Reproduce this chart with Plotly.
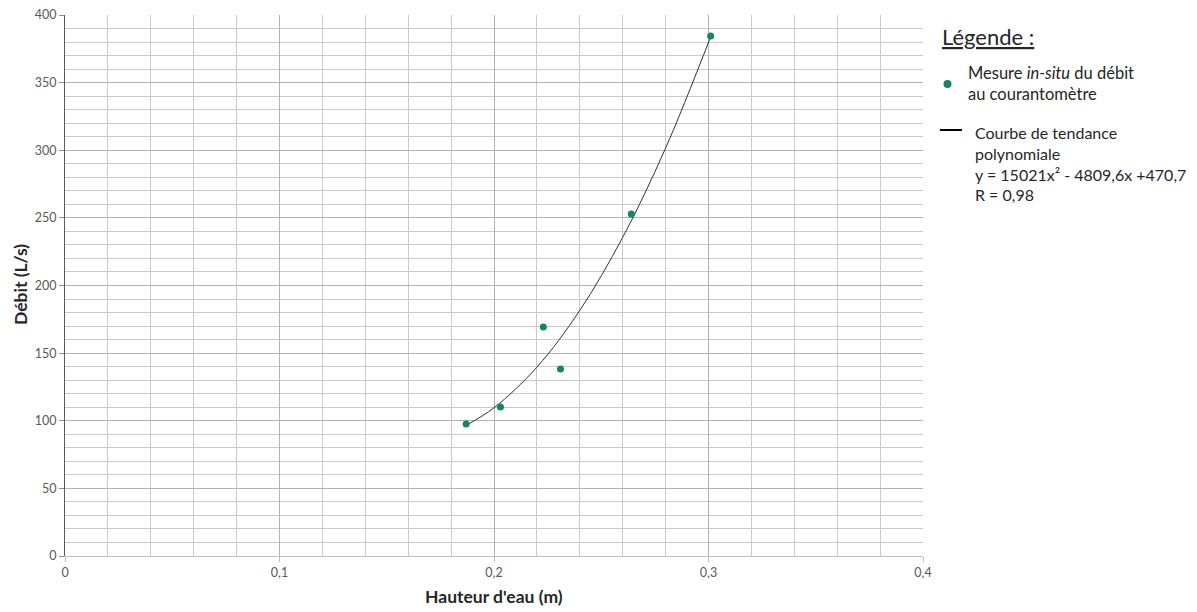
import plotly.graph_objects as go

# Data
hauteur = [0.187, 0.203, 0.223, 0.231, 0.264, 0.301]
debit = [97.6, 110.2, 169.3, 138.3, 252.9, 384.5]

# Trend curve points
trend_x = [0.187, 0.20, 0.22, 0.24, 0.26, 0.28, 0.301]
trend_y = [96.6, 109.6, 139.6, 181.6, 235.6, 301.6, 383.9]

x_ticks = [0, 0.1, 0.2, 0.3, 0.4]
y_ticks = [0, 50, 100, 150, 200, 250, 300, 350, 400]

font_fam = "Lato, 'Open Sans', sans-serif"
green = "#15875f"

W, H = 1197, 612
ML, MR, MT, MB = 65, 274, 15, 56

fig = go.Figure()
fig.add_trace(go.Scatter(x=trend_x, y=trend_y, mode="lines",
                         line=dict(color="#333333", width=1, shape="spline"),
                         showlegend=False, hoverinfo="skip"))
fig.add_trace(go.Scatter(x=hauteur, y=debit, mode="markers",
                         marker=dict(color=green, size=7),
                         showlegend=False))

fig.update_layout(
    width=W, height=H,
    margin=dict(l=ML, r=MR, t=MT, b=MB, autoexpand=False),
    paper_bgcolor="white", plot_bgcolor="white",
    separators=", ",
    font=dict(family=font_fam, size=12, color="#595959"),
    xaxis=dict(range=[0, 0.4], tickvals=x_ticks, showgrid=True, gridcolor="#b3b3b3", gridwidth=1,
               minor=dict(dtick=0.02, tick0=0, showgrid=True, gridcolor="#c9c9c9", gridwidth=1),
               showline=True, linecolor="#bfbfbf", linewidth=1,
               ticks="outside", ticklen=5, tickcolor="#bfbfbf", zeroline=False,
               tickfont=dict(size=12.5, color="#595959")),
    yaxis=dict(range=[0, 400], tickvals=y_ticks, showgrid=True, gridcolor="#b3b3b3", gridwidth=1,
               minor=dict(dtick=10, tick0=0, showgrid=True, gridcolor="#c9c9c9", gridwidth=1),
               showline=True, linecolor="#595959", linewidth=1,
               ticks="outside", ticklen=5, tickcolor="#8c8c8c", zeroline=False,
               tickfont=dict(size=12.5, color="#595959")),
)

def px(xp):
    return (xp - ML) / (W - ML - MR)
def py(yp):
    return (H - MB - yp) / (H - MT - MB)

annotations = [
    dict(text="<b>Débit (L/s)</b>", x=20, y=285, textangle=-90,
         font=dict(size=17.5, color="#262626")),
    dict(text="<b>Hauteur d'eau (m)</b>", x=494, y=596, font=dict(size=17.5, color="#262626")),
    dict(text="<u>Légende :</u>", x=940, y=37, xanchor="left", font=dict(size=22, color="#262626")),
    dict(text="Mesure <i>in-situ</i> du débit<br>au courantomètre", x=966, y=83, xanchor="left",
         align="left", font=dict(size=16.5, color="#262626")),
    dict(text="Courbe de tendance<br>polynomiale<br>y = 15021x² - 4809,6x +470,7<br>R = 0,98",
         x=973, y=163, xanchor="left", align="left", font=dict(size=16, color="#262626")),
]
for a in annotations:
    xp = a.pop("x"); yp = a.pop("y")
    a.update(xref="paper", yref="paper", showarrow=False, x=px(xp), y=py(yp))
    if "xanchor" not in a:
        a["xanchor"] = "center"
    a["yanchor"] = "middle"
    fig.add_annotation(**a)

# legend symbols (drawn in paper coordinates)
fig.add_shape(type="circle", xref="paper", yref="paper",
              x0=px(943.5), x1=px(951.5), y0=py(80), y1=py(88),
              fillcolor=green, line=dict(width=0))
fig.add_shape(type="line", xref="paper", yref="paper",
              x0=px(940), x1=px(962), y0=py(130), y1=py(130),
              line=dict(color="#000000", width=2))

fig.write_html("out.html", config={"displayModeBar": False},
               post_script="document.body.style.margin='0';document.body.style.padding='0';")
